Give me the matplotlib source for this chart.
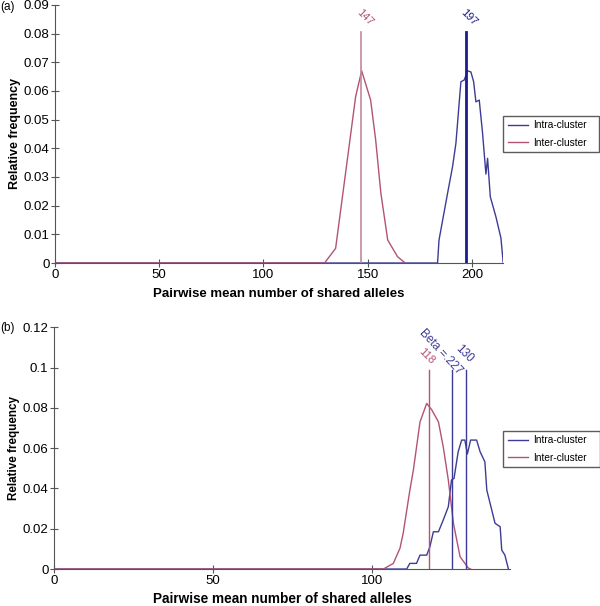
import matplotlib
matplotlib.use("Agg")
import matplotlib.pyplot as plt

plt.rcParams['font.family'] = ['Liberation Sans', 'DejaVu Sans']

# --- panel (a) data ---
a_inter_x = [0, 129.3, 134.6, 140.2, 144.2, 147.1, 151.4, 153.8, 156.3, 159.6, 164.3, 168]
a_inter_y = [0, 0, 0.0051, 0.0359, 0.058, 0.067, 0.0568, 0.043, 0.0244, 0.008, 0.0022, 0]
a_intra_x = [0, 183.5, 184.2, 188.3, 190.7, 192.3, 194.7, 196.3, 197.9, 199.5, 200.8, 201.9,
             203.5, 205.1, 206.7, 207.5, 208.8, 211.5, 213.9, 215]
a_intra_y = [0, 0, 0.008, 0.0243, 0.0336, 0.0417, 0.0632, 0.0638, 0.067, 0.0666, 0.0632, 0.0562,
             0.0568, 0.0452, 0.031, 0.0365, 0.0231, 0.0161, 0.0087, 0]
a_marks = [147, 197]
a_mark_labels = ['147', '197']

# --- panel (b) data ---
b_inter_x = [0, 103.6, 106.7, 108.8, 109.8, 111.9, 113, 115.1, 117.2, 118.8, 120.9, 122.4,
             124, 125.6, 127.7, 130.3, 131]
b_inter_y = [0, 0, 0.0028, 0.0103, 0.0177, 0.039, 0.049, 0.073, 0.0822, 0.079, 0.073, 0.0607,
             0.0442, 0.0228, 0.0061, 0.0005, 0]
b_intra_x = [0, 110.9, 111.9, 114, 115.1, 117.2, 118.2, 119.3, 120.9, 122.4, 124, 125, 125.8,
             127.1, 128.2, 129.2, 130, 131, 132.9, 134, 135.5, 136.1, 138.7, 140.3, 140.8,
             141.8, 142.9]
b_intra_y = [0, 0, 0.0028, 0.0028, 0.0069, 0.0069, 0.011, 0.0185, 0.0185, 0.0243, 0.0309,
             0.0442, 0.045, 0.0582, 0.064, 0.064, 0.0571, 0.064, 0.064, 0.0582, 0.0532, 0.0392,
             0.0227, 0.021, 0.0094, 0.0069, 0]
b_marks = [118, 125.2, 129.5]
b_mark_labels = ['118', 'Beta =.227', '130']

c_intra = '#3c3c96'
c_inter = '#b25377'
c_inter_light = '#c2899d'

fig = plt.figure(figsize=(6, 6.06), dpi=100)

legend_kw = dict(loc='center left', mode='expand', fontsize=7.3, frameon=True, fancybox=False,
                 edgecolor='#333333', handlelength=2.0, handletextpad=0.5, borderpad=0.45,
                 labelspacing=0.75, borderaxespad=0)

# ---------- (a) ----------
ax1 = fig.add_axes([0.0917, 0.566, 0.747, 0.426])
ax1.plot(a_intra_x, a_intra_y, color=c_intra, lw=1, label='Intra-cluster')
ax1.plot(a_inter_x, a_inter_y, color=c_inter, lw=1, label='Inter-cluster')
ax1.plot([a_marks[0]] * 2, [0, 0.0806], color=c_inter_light, lw=1.2)
ax1.plot([a_marks[1]] * 2, [0, 0.0806], color='#1c1c8c', lw=2)
ax1.text(148.5, 0.0857, a_mark_labels[0], color=c_inter, rotation=-45,
         ha='center', va='center', fontsize=8)
ax1.text(198.5, 0.0857, a_mark_labels[1], color='#1c1c8c', rotation=-45,
         ha='center', va='center', fontsize=8)
ax1.set_xlim(0, 215)
ax1.set_ylim(0, 0.09)
ax1.set_xticks([0, 50, 100, 150, 200])
ax1.set_yticks([0, 0.01, 0.02, 0.03, 0.04, 0.05, 0.06, 0.07, 0.08, 0.09])
ax1.set_yticklabels(['0', '0.01', '0.02', '0.03', '0.04', '0.05', '0.06', '0.07', '0.08', '0.09'])
ax1.set_xlabel('Pairwise mean number of shared alleles', fontweight='bold', fontsize=9.5, labelpad=5)
ax1.set_ylabel('Relative frequency', fontweight='bold', fontsize=9, labelpad=2)
ax1.legend(bbox_to_anchor=(1.0, 0.43, 0.214, 0.14), **legend_kw)
fig.text(0.0, 0.999, '(a)', fontsize=8.5, va='top', ha='left')

# ---------- (b) ----------
ax2 = fig.add_axes([0.09, 0.061, 0.76, 0.399])
ax2.plot(b_intra_x, b_intra_y, color=c_intra, lw=1, label='Intra-cluster')
ax2.plot(b_inter_x, b_inter_y, color=c_inter, lw=1, label='Inter-cluster')
ax2.plot([b_marks[0]] * 2, [0, 0.099], color=c_inter, lw=1)
ax2.plot([b_marks[1]] * 2, [0, 0.099], color=c_intra, lw=1)
ax2.plot([b_marks[2]] * 2, [0, 0.099], color=c_intra, lw=1)
ax2.text(117.2, 0.1054, b_mark_labels[0], color=c_inter, rotation=-45,
         ha='center', va='center', fontsize=8)
ax2.text(121.5, 0.1078, b_mark_labels[1], color=c_intra, rotation=-47,
         ha='center', va='center', fontsize=8.5)
ax2.text(129.0, 0.107, b_mark_labels[2], color=c_intra, rotation=-45,
         ha='center', va='center', fontsize=8.5)
ax2.set_xlim(0, 143.4)
ax2.set_ylim(0, 0.12)
ax2.set_xticks([0, 50, 100])
ax2.set_yticks([0, 0.02, 0.04, 0.06, 0.08, 0.1, 0.12])
ax2.set_yticklabels(['0', '0.02', '0.04', '0.06', '0.08', '0.1', '0.12'])
ax2.set_xlabel('Pairwise mean number of shared alleles', fontweight='bold', fontsize=9.8, labelpad=4)
ax2.set_ylabel('Relative frequency', fontweight='bold', fontsize=8.4, labelpad=2)
ax2.legend(bbox_to_anchor=(0.985, 0.42, 0.213, 0.153), **legend_kw)
fig.text(0.0, 0.468, '(b)', fontsize=8.5, va='top', ha='left')

for ax in (ax1, ax2):
    ax.spines['top'].set_visible(False)
    ax.spines['right'].set_visible(False)
    ax.spines['left'].set_color('#555555')
    ax.spines['bottom'].set_color('#555555')
    ax.tick_params(direction='inout', length=6, width=0.8, color='#555555', labelsize=9.5, pad=1)
    ax.patch.set_visible(False)

fig.savefig('out.png', dpi=100)
